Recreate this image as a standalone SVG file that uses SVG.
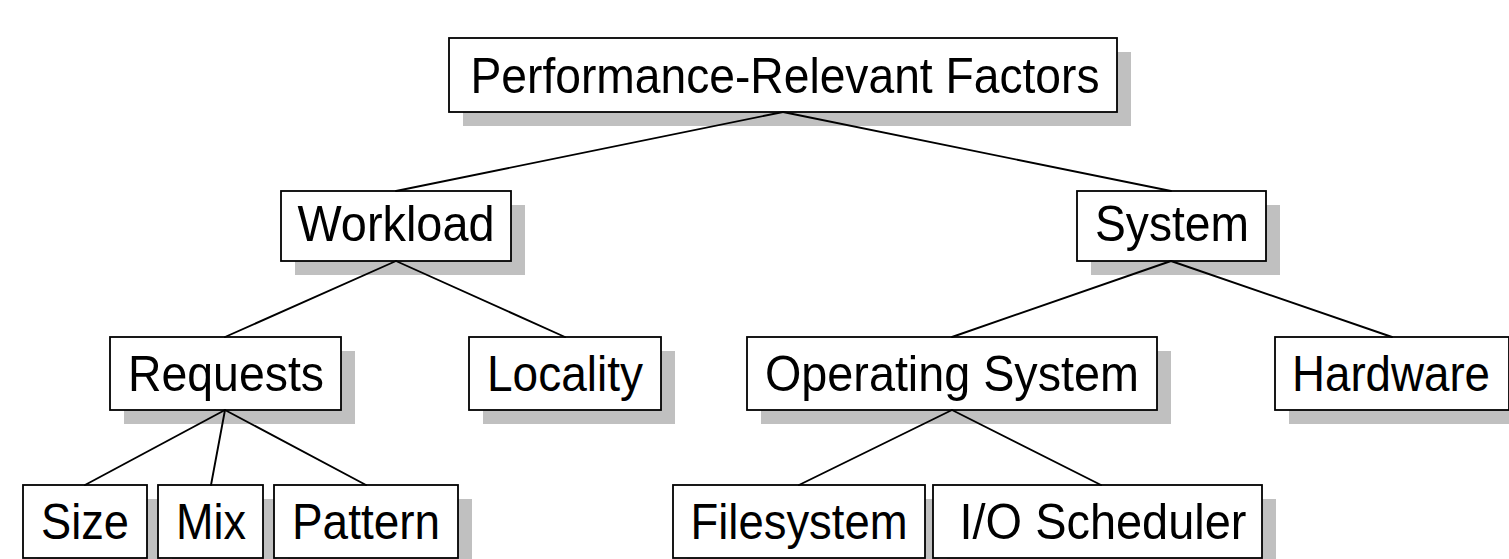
<svg xmlns="http://www.w3.org/2000/svg" width="1509" height="559" viewBox="0 0 1509 559">
  <style>
    .shadow { fill: #c0c0c0; stroke: none; }
    .box { fill: #ffffff; stroke: #000000; stroke-width: 1.8; }
    .label { font-family: "Liberation Sans", Arial, sans-serif; font-size: 50px; fill: #000000; text-anchor: middle; }
    .edge { stroke: #000000; stroke-width: 1.9; fill: none; stroke-linecap: round; }
  </style>
  <rect width="1509" height="559" fill="#ffffff"/>

  <g id="factors">
    <rect class="shadow" x="463" y="52" width="668" height="74"/>
    <rect class="box" x="449" y="38" width="668" height="74"/>
    <text class="label" x="785" y="93" textLength="629" lengthAdjust="spacingAndGlyphs">Performance-Relevant Factors</text>
  </g>

  <g id="workload">
    <rect class="shadow" x="295" y="205" width="230" height="70"/>
    <rect class="box" x="281" y="191" width="230" height="70"/>
    <text class="label" x="396" y="241" textLength="197" lengthAdjust="spacingAndGlyphs">Workload</text>
  </g>

  <g id="system">
    <rect class="shadow" x="1091" y="205" width="189" height="70"/>
    <rect class="box" x="1077" y="191" width="189" height="70"/>
    <text class="label" x="1172" y="241" textLength="154" lengthAdjust="spacingAndGlyphs">System</text>
  </g>

  <g id="requests">
    <rect class="shadow" x="124" y="351" width="231" height="73"/>
    <rect class="box" x="110" y="337" width="231" height="73"/>
    <text class="label" x="226" y="391" textLength="196" lengthAdjust="spacingAndGlyphs">Requests</text>
  </g>

  <g id="locality">
    <rect class="shadow" x="483" y="351" width="192" height="73"/>
    <rect class="box" x="469" y="337" width="192" height="73"/>
    <text class="label" x="565" y="391" textLength="156" lengthAdjust="spacingAndGlyphs">Locality</text>
  </g>

  <g id="operating-system">
    <rect class="shadow" x="761" y="351" width="410" height="73"/>
    <rect class="box" x="747" y="337" width="410" height="73"/>
    <text class="label" x="952" y="391" textLength="374" lengthAdjust="spacingAndGlyphs">Operating System</text>
  </g>

  <g id="hardware">
    <rect class="shadow" x="1289" y="351" width="234" height="73"/>
    <rect class="box" x="1275" y="337" width="234" height="73"/>
    <text class="label" x="1391" y="391" textLength="198" lengthAdjust="spacingAndGlyphs">Hardware</text>
  </g>

  <g id="size">
    <rect class="shadow" x="37" y="499" width="124" height="73"/>
    <rect class="box" x="23" y="485" width="124" height="73"/>
    <text class="label" x="85" y="539" textLength="88" lengthAdjust="spacingAndGlyphs">Size</text>
  </g>

  <g id="mix">
    <rect class="shadow" x="172" y="499" width="105" height="73"/>
    <rect class="box" x="158" y="485" width="105" height="73"/>
    <text class="label" x="211" y="539" textLength="70" lengthAdjust="spacingAndGlyphs">Mix</text>
  </g>

  <g id="pattern">
    <rect class="shadow" x="288" y="499" width="184" height="73"/>
    <rect class="box" x="274" y="485" width="184" height="73"/>
    <text class="label" x="366" y="539" textLength="148" lengthAdjust="spacingAndGlyphs">Pattern</text>
  </g>

  <g id="filesystem">
    <rect class="shadow" x="687" y="499" width="252" height="73"/>
    <rect class="box" x="673" y="485" width="252" height="73"/>
    <text class="label" x="799" y="539" textLength="217" lengthAdjust="spacingAndGlyphs">Filesystem</text>
  </g>

  <g id="io-scheduler">
    <rect class="shadow" x="947" y="499" width="329" height="73"/>
    <rect class="box" x="933" y="485" width="329" height="73"/>
    <text class="label" x="1103" y="539" textLength="287" lengthAdjust="spacingAndGlyphs">I/O Scheduler</text>
  </g>

  <!-- tree edges, drawn last so they sit on top of the drop shadows -->
  <g id="connectors">
    <line class="edge" x1="783" y1="112" x2="396" y2="191"/>
    <line class="edge" x1="783" y1="112" x2="1171" y2="191"/>
    <line class="edge" x1="396" y1="261" x2="225" y2="337"/>
    <line class="edge" x1="396" y1="261" x2="565" y2="337"/>
    <line class="edge" x1="1171" y1="261" x2="952" y2="337"/>
    <line class="edge" x1="1171" y1="261" x2="1392" y2="337"/>
    <line class="edge" x1="225" y1="410" x2="85" y2="485"/>
    <line class="edge" x1="225" y1="410" x2="211" y2="485"/>
    <line class="edge" x1="225" y1="410" x2="366" y2="485"/>
    <line class="edge" x1="952" y1="410" x2="799" y2="485"/>
    <line class="edge" x1="952" y1="410" x2="1101" y2="485"/>
  </g>
</svg>
